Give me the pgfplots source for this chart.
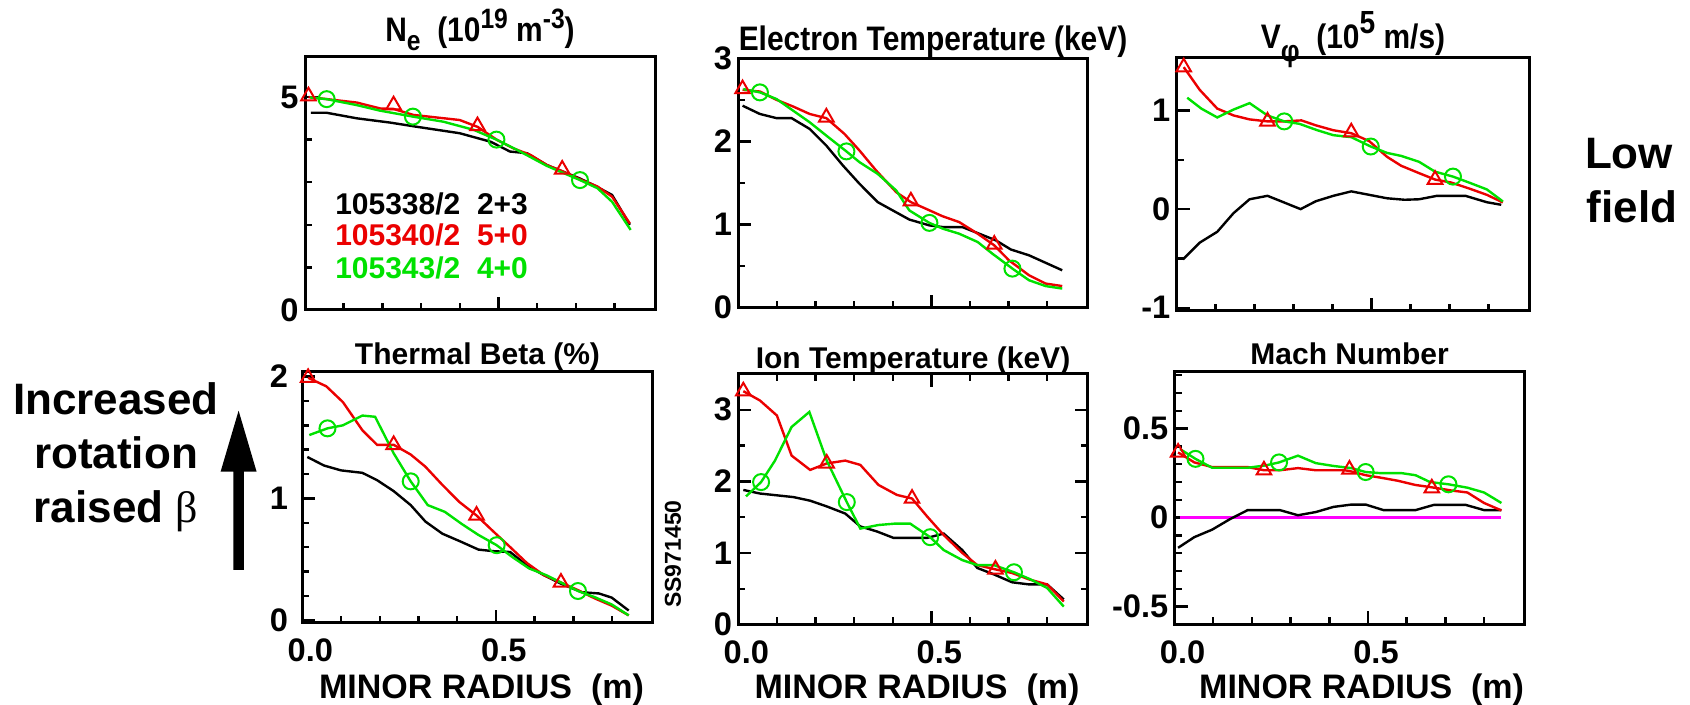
\documentclass[border=0pt]{standalone}
\usepackage{fontspec}
\setmainfont{Liberation Sans}
\newfontfamily\greekserif{Liberation Serif}
\newfontfamily\titlefont[FakeStretch=0.88]{Liberation Sans}
\usepackage{pgfplots}
\pgfplotsset{compat=1.18}
\definecolor{cred}{RGB}{235,0,0}
\definecolor{cgreen}{RGB}{0,225,0}
\definecolor{cmag}{RGB}{255,0,255}
\newcommand{\fs}[1]{\fontsize{#1}{#1}\selectfont}
\pgfplotsset{
  every axis title shift=0pt,
  panel/.style={
    scale only axis, anchor=south west,
    xmin=0, xmax=0.905,
    xtick={0,0.5}, minor xtick={0.1,0.2,0.3,0.4,0.6,0.7,0.8},
    axis line style={line width=1.5pt},
    tick style={black, line width=1.2pt},
    major tick length=6.5pt, minor tick length=3.5pt,
    tick align=inside,
    tick label style={font=\bfseries\fs{16.3pt}},
    yticklabel style={inner xsep=3pt},
    xticklabel style={inner ysep=8pt, xshift=4pt},
    title style={font=\bfseries\fs{15pt}, anchor=base, at={(0.5,1)}},
    xlabel style={font=\bfseries\fs{17pt}, at={(axis description cs:0.5,0)}, anchor=base, xshift=2pt},
    clip=false,
  },
  toptitle/.style={title style={font=\titlefont\bfseries\fs{17pt}}},
  blk/.style={black, line width=1.2pt, no marks},
  redl/.style={cred, line width=1.2pt, no marks},
  grnl/.style={cgreen, line width=1.2pt, no marks},
  tri/.style={cred, only marks, mark=triangle, mark size=4.2pt, mark options={line width=1pt}},
  circ/.style={cgreen, only marks, mark=o, mark size=4pt, mark options={line width=1pt}},
}
\begin{document}
\begin{tikzpicture}
\useasboundingbox (0,0) rectangle (845pt,352.5pt);

% ---------------- Ne ----------------
\begin{axis}[panel, toptitle, at={(152.5pt,197.5pt)}, width=175pt, height=126.5pt,
  tick pos=left, ymin=0, ymax=5.94, ytick={0,5}, yticklabels={0,5}, minor ytick={1,2,3,4},
  xticklabels={},
  title={N\raisebox{-0.5ex}{\fs{14pt}e}\ \ (10\raisebox{0.75ex}{\fs{14pt}19} m\raisebox{0.75ex}{\fs{14pt}-3})},
  title style={yshift=7.5pt}]
\addplot[blk] coordinates {(0.015,4.63)(0.056,4.63)(0.134,4.50)(0.22,4.40)(0.29,4.30)(0.40,4.15)(0.48,3.95)(0.53,3.72)(0.574,3.68)(0.626,3.40)(0.71,3.09)(0.747,2.93)(0.794,2.70)(0.84,2.0)};
\addplot[redl] coordinates {(0.009,5.0)(0.134,4.87)(0.195,4.73)(0.229,4.72)(0.28,4.58)(0.40,4.46)(0.446,4.30)(0.497,3.99)(0.54,3.79)(0.583,3.64)(0.626,3.40)(0.665,3.26)(0.71,3.07)(0.756,2.90)(0.794,2.66)(0.84,2.03)};
\addplot[grnl] coordinates {(0.013,4.99)(0.056,4.95)(0.134,4.81)(0.194,4.68)(0.279,4.54)(0.358,4.42)(0.436,4.23)(0.495,4.0)(0.548,3.76)(0.626,3.38)(0.711,3.05)(0.756,2.86)(0.794,2.54)(0.842,1.88)};
\addplot[tri] coordinates {(0.009,5.02)(0.229,4.81)(0.446,4.32)(0.665,3.30)};
\addplot[circ] coordinates {(0.056,4.95)(0.279,4.54)(0.495,4.0)(0.711,3.05)};
\node[anchor=base west, font=\bfseries\fs{15pt}, black] at (axis cs:0.06,2.25) {105338/2\ \ 2+3};
\node[anchor=base west, font=\bfseries\fs{15pt}, cred] at (axis cs:0.06,1.51) {105340/2\ \ 5+0};
\node[anchor=base west, font=\bfseries\fs{15pt}, cgreen] at (axis cs:0.06,0.73) {105343/2\ \ 4+0};
\end{axis}

% ---------------- Te ----------------
\begin{axis}[panel, toptitle, at={(369.15pt,198.65pt)}, width=174.7pt, height=124.7pt,
  tick pos=left, ymin=0, ymax=3, ytick={0,1,2,3}, yticklabels={0,1,2,3}, minor ytick={0.5,1.5,2.5},
  xticklabels={},
  title={Electron Temperature (keV)},
  title style={yshift=4pt, xshift=10pt}]
\addplot[blk] coordinates {(0.011,2.43)(0.056,2.33)(0.099,2.28)(0.138,2.28)(0.185,2.15)(0.228,1.95)(0.271,1.71)(0.314,1.49)(0.361,1.27)(0.40,1.17)(0.443,1.06)(0.495,0.99)(0.53,0.97)(0.58,0.97)(0.624,0.89)(0.667,0.81)(0.706,0.70)(0.753,0.63)(0.796,0.54)(0.839,0.45)};
\addplot[redl] coordinates {(0.011,2.62)(0.056,2.60)(0.099,2.50)(0.142,2.42)(0.185,2.33)(0.228,2.28)(0.275,2.09)(0.314,1.89)(0.357,1.65)(0.409,1.39)(0.447,1.27)(0.486,1.19)(0.529,1.10)(0.572,1.03)(0.62,0.89)(0.663,0.75)(0.701,0.57)(0.753,0.39)(0.796,0.29)(0.839,0.26)};
\addplot[grnl] coordinates {(0.013,2.63)(0.056,2.59)(0.099,2.51)(0.142,2.37)(0.185,2.23)(0.228,2.07)(0.28,1.88)(0.314,1.75)(0.361,1.61)(0.409,1.41)(0.443,1.17)(0.495,1.02)(0.53,0.95)(0.572,0.89)(0.62,0.79)(0.658,0.65)(0.71,0.47)(0.753,0.33)(0.796,0.26)(0.839,0.23)};
\addplot[tri] coordinates {(0.011,2.63)(0.228,2.29)(0.447,1.28)(0.663,0.76)};
\addplot[circ] coordinates {(0.056,2.59)(0.28,1.88)(0.495,1.02)(0.71,0.47)};
\end{axis}

% ---------------- Vphi ----------------
\begin{axis}[panel, toptitle, at={(588.35pt,197.15pt)}, width=176.3pt, height=126.7pt,
  tick pos=left, ymin=-1.03, ymax=1.54, ytick={-1,0,1}, yticklabels={-1,0,1}, minor ytick={-0.5,0.5},
  xticklabels={},
  title={V\raisebox{-0.75ex}{\fs{15pt}φ}\ \ (10\raisebox{0.8ex}{\fs{16pt}5} m/s)},
  title style={yshift=4.5pt}]
\addplot[blk] coordinates {(0.016,-0.51)(0.059,-0.34)(0.104,-0.23)(0.146,-0.04)(0.187,0.10)(0.233,0.135)(0.274,0.07)(0.318,0.0)(0.357,0.08)(0.402,0.135)(0.448,0.18)(0.494,0.145)(0.54,0.11)(0.585,0.095)(0.622,0.10)(0.668,0.135)(0.741,0.135)(0.796,0.07)(0.833,0.044)};
\addplot[redl] coordinates {(0.018,1.44)(0.059,1.21)(0.104,1.02)(0.146,0.95)(0.187,0.91)(0.233,0.89)(0.274,0.89)(0.32,0.90)(0.357,0.85)(0.402,0.80)(0.448,0.77)(0.494,0.69)(0.54,0.53)(0.576,0.44)(0.622,0.365)(0.663,0.30)(0.704,0.27)(0.75,0.21)(0.796,0.145)(0.837,0.068)};
\addplot[grnl] coordinates {(0.027,1.13)(0.063,1.02)(0.104,0.93)(0.146,1.01)(0.187,1.075)(0.233,0.95)(0.276,0.89)(0.315,0.865)(0.361,0.80)(0.402,0.75)(0.448,0.73)(0.498,0.635)(0.54,0.57)(0.576,0.54)(0.622,0.48)(0.663,0.38)(0.709,0.33)(0.75,0.27)(0.796,0.20)(0.837,0.078)};
\addplot[tri] coordinates {(0.018,1.44)(0.233,0.89)(0.448,0.78)(0.663,0.30)};
\addplot[circ] coordinates {(0.276,0.89)(0.498,0.635)(0.709,0.33)};
\end{axis}

% ---------------- Thermal Beta ----------------
\begin{axis}[panel, at={(151.15pt,41.15pt)}, width=175.2pt, height=125.5pt,
  tick pos=left, ymin=-0.02, ymax=2.04, ytick={0,1,2}, yticklabels={0,1,2},
  minor ytick={0.2,0.4,0.6,0.8,1.2,1.4,1.6,1.8},
  yticklabel style={xshift=-4pt},
  xticklabels={0.0,0.5},
  title={Thermal Beta (\%)}, title style={yshift=3.4pt},
  xlabel={MINOR RADIUS\ \ (m)}, xlabel style={yshift=-37.8pt}]
\addplot[blk] coordinates {(0.013,1.34)(0.056,1.27)(0.10,1.23)(0.155,1.21)(0.193,1.15)(0.236,1.06)(0.28,0.945)(0.318,0.81)(0.362,0.71)(0.406,0.65)(0.455,0.58)(0.493,0.567)(0.537,0.56)(0.58,0.45)(0.624,0.37)(0.668,0.30)(0.722,0.23)(0.766,0.22)(0.799,0.186)(0.843,0.08)};
\addplot[redl] coordinates {(0.015,1.99)(0.062,1.92)(0.105,1.79)(0.155,1.56)(0.193,1.44)(0.236,1.44)(0.28,1.36)(0.318,1.26)(0.362,1.11)(0.406,0.97)(0.45,0.86)(0.493,0.73)(0.537,0.60)(0.58,0.47)(0.624,0.37)(0.668,0.31)(0.71,0.25)(0.755,0.18)(0.799,0.12)(0.843,0.04)};
\addplot[grnl] coordinates {(0.018,1.52)(0.065,1.575)(0.105,1.60)(0.155,1.68)(0.188,1.67)(0.236,1.37)(0.28,1.14)(0.324,0.945)(0.368,0.89)(0.412,0.79)(0.455,0.70)(0.502,0.616)(0.542,0.52)(0.586,0.425)(0.63,0.37)(0.712,0.24)(0.755,0.19)(0.799,0.13)(0.843,0.04)};
\addplot[tri] coordinates {(0.015,1.99)(0.236,1.44)(0.45,0.86)(0.668,0.31)};
\addplot[circ] coordinates {(0.065,1.575)(0.28,1.14)(0.502,0.616)(0.712,0.24)};
\end{axis}

% ---------------- Ion Temperature ----------------
\begin{axis}[panel, at={(369.15pt,40.25pt)}, width=174.7pt, height=125.25pt,
  tick pos=both, ymin=0, ymax=3.5, ytick={0,1,2,3}, yticklabels={0,1,2,3}, minor ytick={0.5,1.5,2.5},
  xticklabels={0.0,0.5},
  title={Ion Temperature (keV)}, title style={yshift=2.9pt},
  xlabel={MINOR RADIUS\ \ (m)}, xlabel style={yshift=-36.9pt}]
\addplot[blk] coordinates {(0.013,1.88)(0.056,1.83)(0.143,1.78)(0.186,1.73)(0.229,1.65)(0.277,1.55)(0.316,1.37)(0.359,1.30)(0.402,1.21)(0.445,1.21)(0.489,1.21)(0.532,1.27)(0.58,1.04)(0.619,0.79)(0.662,0.70)(0.709,0.59)(0.753,0.56)(0.80,0.56)(0.843,0.35)};
\addplot[redl] coordinates {(0.013,3.26)(0.056,3.13)(0.10,2.92)(0.138,2.36)(0.186,2.16)(0.229,2.25)(0.277,2.29)(0.316,2.23)(0.363,1.95)(0.411,1.81)(0.45,1.76)(0.489,1.51)(0.532,1.25)(0.58,1.0)(0.619,0.83)(0.666,0.77)(0.709,0.72)(0.753,0.63)(0.80,0.56)(0.843,0.32)};
\addplot[grnl] coordinates {(0.02,1.79)(0.059,1.99)(0.095,2.29)(0.138,2.76)(0.184,2.97)(0.229,2.29)(0.281,1.71)(0.316,1.34)(0.363,1.39)(0.407,1.41)(0.445,1.41)(0.497,1.22)(0.532,1.04)(0.58,0.90)(0.619,0.83)(0.662,0.83)(0.714,0.73)(0.757,0.63)(0.80,0.51)(0.843,0.25)};
\addplot[tri] coordinates {(0.013,3.26)(0.229,2.25)(0.45,1.76)(0.666,0.77)};
\addplot[circ] coordinates {(0.059,1.99)(0.281,1.71)(0.497,1.22)(0.714,0.73)};
\end{axis}

% ---------------- Mach Number ----------------
\begin{axis}[panel, at={(587.3pt,40.35pt)}, width=175pt, height=126.3pt,
  tick pos=left, ymin=-0.6, ymax=0.82, ytick={-0.5,0,0.5}, yticklabels={-0.5,0,0.5},
  minor ytick={-0.6,-0.4,-0.3,-0.2,-0.1,0.1,0.2,0.3,0.4,0.6,0.7,0.8},
  xticklabels={0.0,0.5},
  title={Mach Number}, title style={yshift=3.4pt},
  xlabel={MINOR RADIUS\ \ (m)}, xlabel style={yshift=-37pt, xshift=4pt}]
\addplot[cmag, line width=1.2pt, no marks] coordinates {(0.014,0)(0.845,0)};
\addplot[blk] coordinates {(0.009,-0.17)(0.051,-0.11)(0.097,-0.068)(0.143,-0.009)(0.189,0.042)(0.272,0.042)(0.319,0.013)(0.365,0.031)(0.411,0.06)(0.457,0.073)(0.494,0.073)(0.54,0.042)(0.623,0.042)(0.67,0.071)(0.753,0.071)(0.80,0.042)(0.845,0.042)};
\addplot[redl] coordinates {(0.009,0.366)(0.051,0.31)(0.097,0.284)(0.189,0.284)(0.231,0.266)(0.272,0.266)(0.319,0.278)(0.365,0.266)(0.439,0.266)(0.452,0.262)(0.494,0.238)(0.531,0.225)(0.577,0.207)(0.623,0.183)(0.665,0.17)(0.716,0.152)(0.757,0.141)(0.80,0.082)(0.845,0.04)};
\addplot[grnl] coordinates {(0.014,0.385)(0.054,0.33)(0.097,0.28)(0.189,0.28)(0.235,0.293)(0.27,0.31)(0.319,0.348)(0.365,0.306)(0.411,0.29)(0.457,0.278)(0.494,0.256)(0.531,0.25)(0.586,0.25)(0.623,0.238)(0.66,0.20)(0.708,0.187)(0.757,0.168)(0.80,0.141)(0.845,0.082)};
\addplot[tri] coordinates {(0.009,0.366)(0.231,0.266)(0.452,0.27)(0.665,0.165)};
\addplot[circ] coordinates {(0.054,0.33)(0.27,0.31)(0.494,0.256)(0.708,0.187)};
\end{axis}

% ---------------- annotations ----------------
\node[anchor=base, font=\bfseries\fs{22pt}] at (58pt,145pt) {Increased};
\node[anchor=base, font=\bfseries\fs{22pt}] at (58pt,118.35pt) {rotation};
\node[anchor=base, font=\bfseries\fs{22pt}] at (58pt,91pt) {raised {\mdseries\greekserif β}};
\fill[black] (116.7pt,67.5pt) -- (121.9pt,67.5pt) -- (121.9pt,116.65pt) -- (128.3pt,116.65pt)
  -- (119.3pt,147.15pt) -- (110.3pt,116.65pt) -- (116.7pt,116.65pt) -- cycle;
\node[anchor=base, font=\bfseries\fs{22pt}] at (814.5pt,268.35pt) {Low};
\node[anchor=base, font=\bfseries\fs{22pt}] at (816pt,241pt) {field};
\node[rotate=90, font=\bfseries\fs{11.5pt}] at (336.5pt,75.5pt) {SS971450};
\end{tikzpicture}
\end{document}
